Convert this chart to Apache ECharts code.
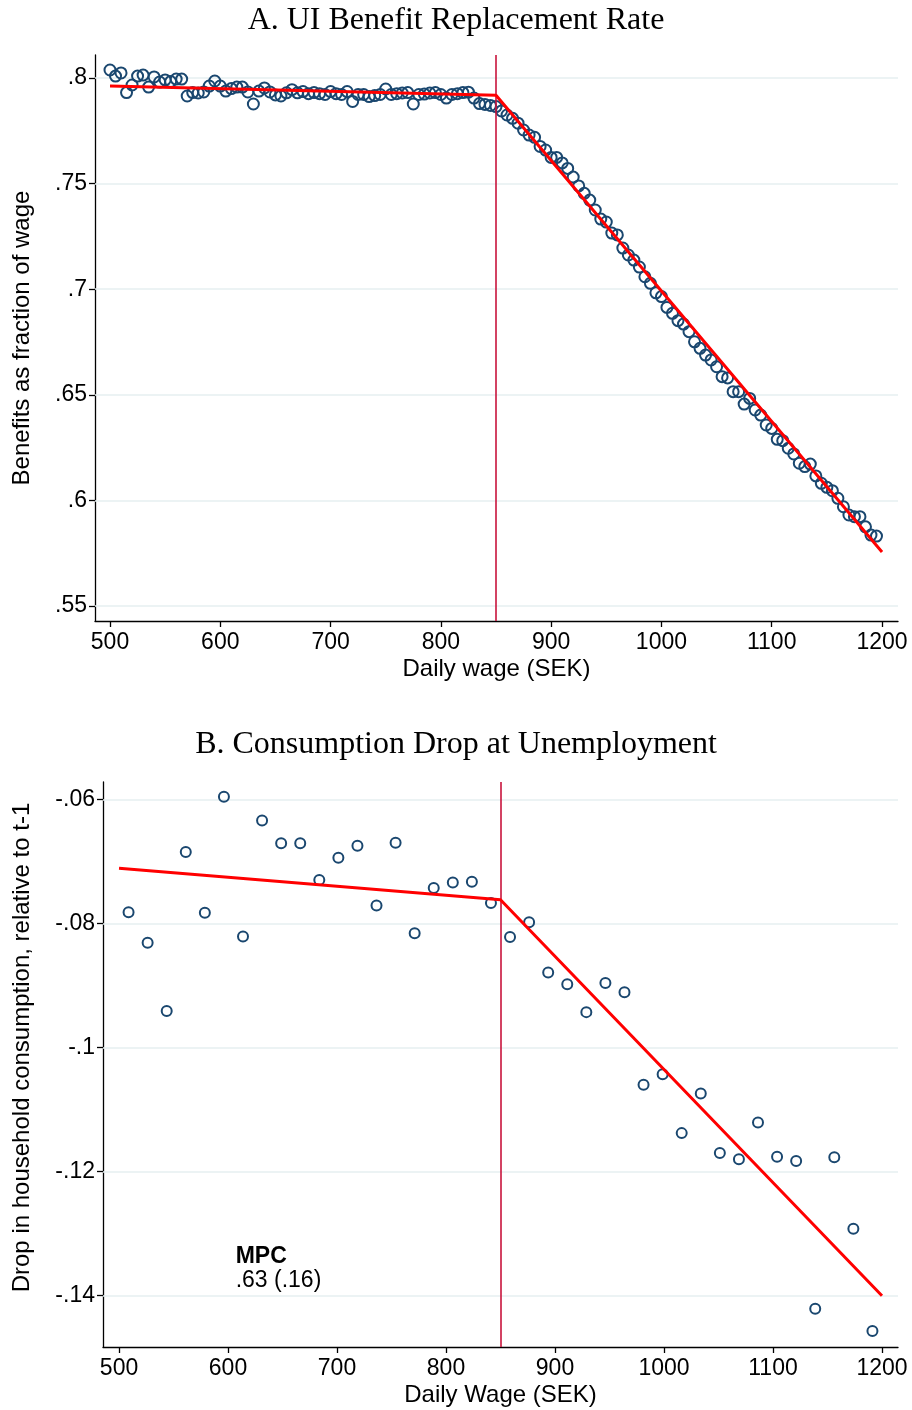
<!DOCTYPE html>
<html>
<head>
<meta charset="utf-8">
<script src="https://cdn.jsdelivr.net/npm/echarts@6/dist/echarts.min.js"></script>
<style>
  html, body { margin: 0; padding: 0; background: #ffffff; }
  #chart { width: 912px; height: 1410px; }
</style>
</head>
<body>
<div id="chart"></div>
<script>
// ---- Panel A: UI benefit replacement rate by daily wage (5 SEK bins) ----
const wageA = [
  500, 505, 510, 515, 520, 525, 530, 535, 540, 545, 550, 555, 560, 565, 570, 575, 580, 585, 590, 595,
  600, 605, 610, 615, 620, 625, 630, 635, 640, 645, 650, 655, 660, 665, 670, 675, 680, 685, 690, 695,
  700, 705, 710, 715, 720, 725, 730, 735, 740, 745, 750, 755, 760, 765, 770, 775, 780, 785, 790, 795,
  800, 805, 810, 815, 820, 825, 830, 835, 840, 845, 850, 855, 860, 865, 870, 875, 880, 885, 890, 895,
  900, 905, 910, 915, 920, 925, 930, 935, 940, 945, 950, 955, 960, 965, 970, 975, 980, 985, 990, 995,
  1000, 1005, 1010, 1015, 1020, 1025, 1030, 1035, 1040, 1045, 1050, 1055, 1060, 1065, 1070, 1075, 1080, 1085, 1090, 1095,
  1100, 1105, 1110, 1115, 1120, 1125, 1130, 1135, 1140, 1145, 1150, 1155, 1160, 1165, 1170, 1175, 1180, 1185, 1190, 1195
];
const rateA = [
  0.8038, 0.8009, 0.8024, 0.7931, 0.7967, 0.8009, 0.8014, 0.7957, 0.8005, 0.7981,
  0.7991, 0.7983, 0.7995, 0.7995, 0.7915, 0.7931, 0.7929, 0.7934, 0.7962, 0.7986,
  0.7962, 0.7938, 0.7950, 0.7957, 0.7957, 0.7934, 0.7877, 0.7938, 0.7953, 0.7934,
  0.7920, 0.7915, 0.7930, 0.7945, 0.7930, 0.7936, 0.7926, 0.7931, 0.7926, 0.7922,
  0.7936, 0.7926, 0.7922, 0.7936, 0.7889, 0.7922, 0.7922, 0.7912, 0.7917, 0.7922,
  0.7948, 0.7922, 0.7926, 0.7929, 0.7931, 0.7877, 0.7922, 0.7924, 0.7929, 0.7931,
  0.7922, 0.7905, 0.7922, 0.7926, 0.7931, 0.7933, 0.7905, 0.7879, 0.7875, 0.7870,
  0.7865, 0.7844, 0.7825, 0.7809, 0.7786, 0.7754, 0.7730, 0.7719, 0.7676, 0.7659,
  0.7624, 0.7624, 0.7598, 0.7572, 0.7531, 0.7489, 0.7454, 0.7422, 0.7375, 0.7332,
  0.7318, 0.7266, 0.7257, 0.7195, 0.7162, 0.7138, 0.7105, 0.7059, 0.7028, 0.6983,
  0.6965, 0.6914, 0.6886, 0.6851, 0.6835, 0.6799, 0.6751, 0.6720, 0.6688, 0.6665,
  0.6633, 0.6586, 0.6580, 0.6515, 0.6515, 0.6456, 0.6483, 0.6428, 0.6404, 0.6357,
  0.6341, 0.6289, 0.6283, 0.6247, 0.6220, 0.6176, 0.6160, 0.6172, 0.6116, 0.6081,
  0.6062, 0.6046, 0.6010, 0.5970, 0.5931, 0.5923, 0.5923, 0.5875, 0.5836, 0.5831
];
// piecewise-linear fit with a kink at the benefit cap
const fitWageA = [500, 850, 1200];
const fitRateA = [0.7962, 0.7918, 0.5756];

// ---- Panel B: consumption drop at unemployment (17.5 SEK bins) ----
const wageB = [
  508.75, 526.25, 543.75, 561.25, 578.75, 596.25, 613.75, 631.25, 648.75, 666.25,
  683.75, 701.25, 718.75, 736.25, 753.75, 771.25, 788.75, 806.25, 823.75, 841.25,
  858.75, 876.25, 893.75, 911.25, 928.75, 946.25, 963.75, 981.25, 998.75, 1016.25,
  1033.75, 1051.25, 1068.75, 1086.25, 1103.75, 1121.25, 1138.75, 1156.25, 1173.75, 1191.25
];
const dropB = [
  -0.0782, -0.0831, -0.0941, -0.0685, -0.0783, -0.0596, -0.0821, -0.0634, -0.0671, -0.0671,
  -0.0730, -0.0694, -0.0675, -0.0771, -0.0670, -0.0816, -0.0743, -0.0734, -0.0733, -0.0767,
  -0.0822, -0.0798, -0.0879, -0.0898, -0.0943, -0.0896, -0.0911, -0.1060, -0.1043, -0.1138,
  -0.1074, -0.1170, -0.1180, -0.1121, -0.1176, -0.1183, -0.1421, -0.1177, -0.1292, -0.1457
];
const fitWageB = [500, 850, 1200];
const fitDropB = [-0.0711, -0.0762, -0.1400];

// ---- shared axis settings ----
const kinkWage = 850;
const xTicks = [500, 600, 700, 800, 900, 1000, 1100, 1200];
const yTicksA = [0.55, 0.6, 0.65, 0.7, 0.75, 0.8];
const yTicksB = [-0.14, -0.12, -0.1, -0.08, -0.06];
const mpcLabel = 'MPC';
const mpcValue = '.63 (.16)';
const mpcAnchor = [607, -0.1318];

const SANS = '"Liberation Sans", Arial, Helvetica, sans-serif';
const SERIF = '"Liberation Serif", "Times New Roman", serif';
const NAVY = '#1A476F';
const FIT_RED = '#FF0000';
const KINK_RED = '#C8143C';
const GRID_COLOR = '#E6EFF1';

// Stata-style number labels without the leading zero
function stataNum(v) {
  const s = (Math.round(v * 1000) / 1000).toString();
  return s.replace('0.', '.');
}

function xAxisDef(gridIndex, min, max, name) {
  return {
    type: 'value', gridIndex, min, max,
    name, nameLocation: 'middle', nameGap: 36,
    nameTextStyle: { fontFamily: SANS, fontSize: 24, color: '#000' },
    axisLine: { show: true, onZero: false, lineStyle: { color: '#000', width: 1.3 } },
    axisTick: { show: true, length: 6, inside: false, customValues: xTicks, lineStyle: { color: '#000', width: 1.3 } },
    axisLabel: { customValues: xTicks, margin: 10, fontFamily: SANS, fontSize: 23, color: '#000',
                 formatter: v => String(v) },
    splitLine: { show: false }
  };
}

function yAxisDef(gridIndex, min, max, ticks, name, nameGap, namePad) {
  return {
    type: 'value', gridIndex, min, max,
    name, nameLocation: 'middle', nameGap,
    nameTextStyle: { fontFamily: SANS, fontSize: 24, color: '#000', padding: namePad },
    axisLine: { show: true, onZero: false, lineStyle: { color: '#000', width: 1.3 } },
    axisTick: { show: true, length: 6, inside: false, customValues: ticks, lineStyle: { color: '#000', width: 1.3 } },
    axisLabel: { customValues: ticks, margin: 8, fontFamily: SANS, fontSize: 23, color: '#000', formatter: stataNum },
    splitLine: { show: false }
  };
}

const gridLinesA = yTicksA.map(v => ({ yAxis: v }));
const gridLinesB = yTicksB.map(v => ({ yAxis: v }));

const chart = echarts.init(document.getElementById('chart'), null, { renderer: 'canvas' });

const option = {
  backgroundColor: '#ffffff',
  animation: false,
  title: [
    { text: 'A. UI Benefit Replacement Rate', left: 'center', top: 0,
      textStyle: { fontFamily: SERIF, fontSize: 32, fontWeight: 'normal', color: '#000' } },
    { text: 'B. Consumption Drop at Unemployment', left: 'center', top: 724,
      textStyle: { fontFamily: SERIF, fontSize: 32, fontWeight: 'normal', color: '#000' } }
  ],
  grid: [
    { left: 95, top: 55, width: 803, height: 566 },
    { left: 103, top: 782, width: 795, height: 565 }
  ],
  xAxis: [
    xAxisDef(0, 486.4, 1214.5, 'Daily wage (SEK)'),
    xAxisDef(1, 485.3, 1214.7, 'Daily Wage (SEK)')
  ],
  yAxis: [
    yAxisDef(0, 0.5429, 0.8109, yTicksA, 'Benefits as fraction of wage', 61, [0, 0, 0, 0]),
    yAxisDef(1, -0.14827, -0.05721, yTicksB, 'Drop in household consumption, relative to t-1', 69, [0, 0, 0, 34])
  ],
  series: [
    {
      type: 'scatter', xAxisIndex: 0, yAxisIndex: 0, z: 2,
      data: wageA.map((w, i) => [w, rateA[i]]),
      symbol: 'circle', symbolSize: 11,
      itemStyle: { color: 'rgba(0,0,0,0)', borderColor: NAVY, borderWidth: 2, opacity: 1 },
      markLine: {
        silent: true, symbol: 'none', z: 1, animation: false,
        label: { show: false },
        lineStyle: { color: GRID_COLOR, width: 1.5, type: 'solid' },
        data: gridLinesA
      }
    },
    {
      type: 'line', xAxisIndex: 0, yAxisIndex: 0, z: 4,
      data: fitWageA.map((w, i) => [w, fitRateA[i]]),
      showSymbol: false, symbol: 'none',
      lineStyle: { color: FIT_RED, width: 3 },
      markLine: {
        silent: true, symbol: 'none', z: 3, animation: false,
        label: { show: false },
        lineStyle: { color: KINK_RED, width: 1.6, type: 'solid' },
        data: [{ xAxis: kinkWage }]
      }
    },
    {
      type: 'scatter', xAxisIndex: 1, yAxisIndex: 1, z: 2,
      data: wageB.map((w, i) => [w, dropB[i]]),
      symbol: 'circle', symbolSize: 10,
      itemStyle: { color: 'rgba(0,0,0,0)', borderColor: NAVY, borderWidth: 2, opacity: 1 },
      markLine: {
        silent: true, symbol: 'none', z: 1, animation: false,
        label: { show: false },
        lineStyle: { color: GRID_COLOR, width: 1.5, type: 'solid' },
        data: gridLinesB
      }
    },
    {
      type: 'line', xAxisIndex: 1, yAxisIndex: 1, z: 4,
      data: fitWageB.map((w, i) => [w, fitDropB[i]]),
      showSymbol: false, symbol: 'none',
      lineStyle: { color: FIT_RED, width: 3 },
      markLine: {
        silent: true, symbol: 'none', z: 3, animation: false,
        label: { show: false },
        lineStyle: { color: KINK_RED, width: 1.6, type: 'solid' },
        data: [{ xAxis: kinkWage }]
      }
    }
  ]
};

chart.setOption(option);

// MPC annotation placed in panel B data space
const mpcPos = chart.convertToPixel({ gridIndex: 1 }, mpcAnchor);
chart.setOption({
  graphic: [{
    type: 'text', left: mpcPos[0], top: mpcPos[1], z: 10,
    style: {
      text: '{b|' + mpcLabel + '}\n{n|' + mpcValue + '}',
      rich: {
        b: { fontFamily: SANS, fontSize: 23, fontWeight: 'bold', fill: '#000', lineHeight: 24 },
        n: { fontFamily: SANS, fontSize: 23, fill: '#000', lineHeight: 24 }
      }
    }
  }]
});
</script>
</body>
</html>
